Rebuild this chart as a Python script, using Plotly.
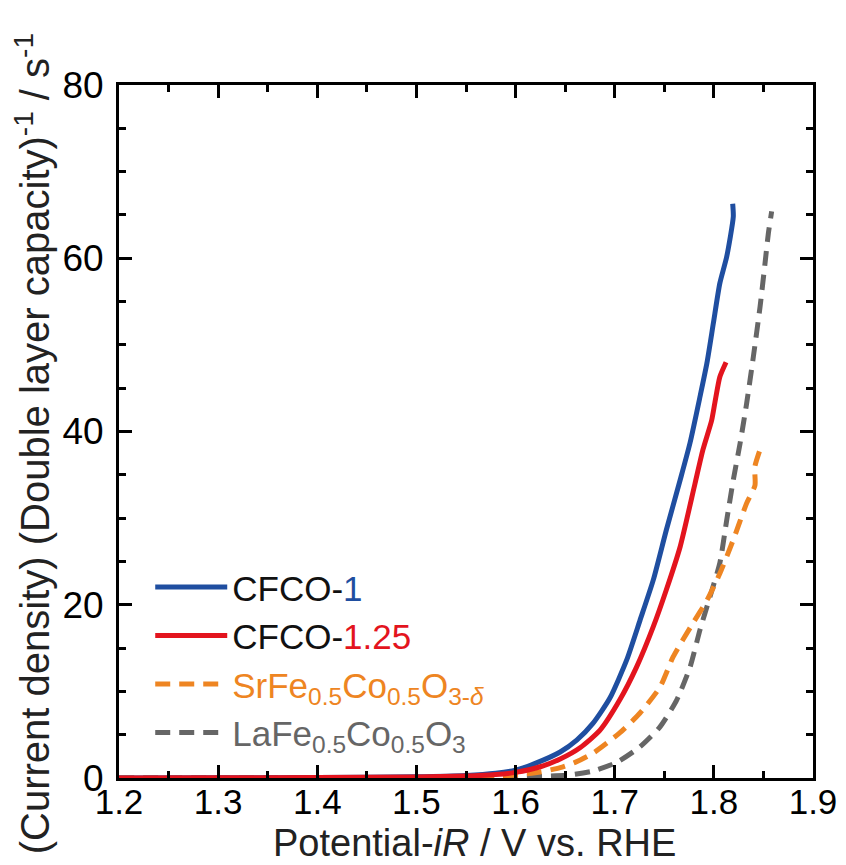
import plotly.graph_objects as go

# ---- data ----
cfco1_x = [1.20, 1.30, 1.40, 1.50, 1.55, 1.58, 1.60, 1.618, 1.645, 1.662, 1.678, 1.695, 1.712, 1.7255,
           1.739, 1.752, 1.766, 1.776, 1.786, 1.793, 1.7995, 1.806, 1.813, 1.8196, 1.819]
cfco1_y = [0.0, 0.02, 0.05, 0.15, 0.3, 0.55, 0.9, 1.6, 3.0, 4.4, 6.3, 9.2, 13.6, 18.2,
           22.9, 28.6, 34.4, 38.7, 44.0, 47.9, 52.5, 57.1, 60.2, 64.8, 66.3]

cfco125_x = [1.20, 1.30, 1.40, 1.50, 1.55, 1.58, 1.60, 1.625, 1.645, 1.665, 1.685, 1.705, 1.722, 1.739,
             1.752, 1.766, 1.781, 1.789, 1.7978, 1.801, 1.806, 1.8123]
cfco125_y = [0.0, 0.02, 0.05, 0.12, 0.22, 0.4, 0.65, 1.3, 2.2, 3.5, 5.5, 9.0, 12.8, 17.5,
             21.7, 26.7, 34.0, 37.9, 41.3, 43.3, 46.3, 48.0]

sfco_x = [1.20, 1.30, 1.40, 1.50, 1.55, 1.58, 1.60, 1.625, 1.645, 1.66, 1.678, 1.705, 1.7255, 1.7457,
          1.759, 1.779, 1.793, 1.806, 1.8196, 1.833, 1.8415, 1.8413, 1.8481]
sfco_y = [0.0, 0.01, 0.02, 0.05, 0.1, 0.2, 0.35, 0.7, 1.2, 1.8, 2.85, 5.2, 7.5, 10.5,
          14.0, 17.9, 20.5, 23.6, 27.5, 31.7, 33.8, 35.9, 38.4]

lfco_x = [1.20, 1.30, 1.40, 1.50, 1.55, 1.60, 1.63, 1.655, 1.678, 1.702, 1.7255, 1.7457, 1.7625, 1.776,
          1.786, 1.796, 1.806, 1.813, 1.8196, 1.8264, 1.833, 1.8398, 1.8466, 1.8516, 1.855, 1.8583]
lfco_y = [0.0, 0.0, 0.01, 0.02, 0.04, 0.1, 0.2, 0.35, 0.8, 1.8, 3.6, 5.9, 9.0, 12.8,
          17.1, 20.9, 24.8, 29.8, 34.4, 38.6, 43.2, 48.6, 54.4, 59.4, 62.9, 65.4]

x_ticks = [1.2, 1.3, 1.4, 1.5, 1.6, 1.7, 1.8, 1.9]
y_ticks = [0, 20, 40, 60, 80]

names = [
    'CFCO-<span style="color:#1f4ea0">1</span>',
    'CFCO-<span style="color:#e3141e">1.25</span>',
    '<span style="color:#ee8522">SrFe<sub>0.5</sub>Co<sub>0.5</sub>O<sub>3-<i>δ</i></sub></span>',
    '<span style="color:#666666">LaFe<sub>0.5</sub>Co<sub>0.5</sub>O<sub>3</sub></span>',
]
x_title = "Potential-<i>iR</i> / V vs. RHE"
y_title = "(Current density) (Double layer capacity)<sup>-1</sup> / s<sup>-1</sup>"

FONT = "Liberation Sans, Arial, sans-serif"

fig = go.Figure()
fig.add_trace(go.Scatter(x=lfco_x, y=lfco_y, mode="lines", name=names[3],
                         line=dict(color="#666666", width=5, dash="15px,9px", shape="spline", smoothing=0.6),
                         legendrank=4))
fig.add_trace(go.Scatter(x=sfco_x, y=sfco_y, mode="lines", name=names[2],
                         line=dict(color="#ee8522", width=5, dash="15px,9px", shape="spline", smoothing=0.6),
                         legendrank=3))
fig.add_trace(go.Scatter(x=cfco1_x, y=cfco1_y, mode="lines", name=names[0],
                         line=dict(color="#1f4ea0", width=5, shape="spline", smoothing=0.6), legendrank=1))
fig.add_trace(go.Scatter(x=cfco125_x, y=cfco125_y, mode="lines", name=names[1],
                         line=dict(color="#e3141e", width=5, shape="spline", smoothing=0.6), legendrank=2))

axis_common = dict(
    showgrid=False, zeroline=False, showline=True, linecolor="black", linewidth=3,
    mirror="allticks", ticks="inside", ticklen=13, tickwidth=2.5, tickcolor="black",
)

fig.update_xaxes(range=[1.2, 1.9], tickvals=x_ticks, ticktext=[f"{v:.1f}" for v in x_ticks],
                 minor=dict(dtick=0.05, ticks="inside", ticklen=7, tickwidth=2.5, tickcolor="black"),
                 tickfont=dict(family=FONT, size=35, color="black"),
                 ticklabelstandoff=-9,
                 **axis_common)
fig.update_yaxes(range=[0, 80], tickvals=y_ticks, ticktext=[str(v) for v in y_ticks],
                 minor=dict(dtick=5, ticks="inside", ticklen=7, tickwidth=2.5, tickcolor="black"),
                 tickfont=dict(family=FONT, size=37, color="black"),
                 ticklabelstandoff=5,
                 **axis_common)

# page has an 8px body margin, so the figure is drawn 8px smaller and offset
fig.update_layout(
    width=838, height=857,
    margin=dict(l=111, r=33, t=77, b=87, autoexpand=False),
    paper_bgcolor="white", plot_bgcolor="white",
    showlegend=True,
    legend=dict(x=0.045, y=0.318, xanchor="left", yanchor="top", bgcolor="rgba(0,0,0,0)",
                font=dict(family=FONT, size=35, color="#111"), itemwidth=72,
                tracegroupgap=0, traceorder="normal"),
    annotations=[
        dict(text=x_title, xref="paper", yref="paper", x=0.512, y=-0.094,
             xanchor="center", yanchor="middle", showarrow=False,
             font=dict(family=FONT, size=38, color="#222")),
        dict(text=y_title, xref="paper", yref="paper", x=-0.124, y=0.483,
             xanchor="center", yanchor="middle", showarrow=False, textangle=-90,
             font=dict(family=FONT, size=40, color="#222")),
    ],
)

fig.write_html("out.html")
